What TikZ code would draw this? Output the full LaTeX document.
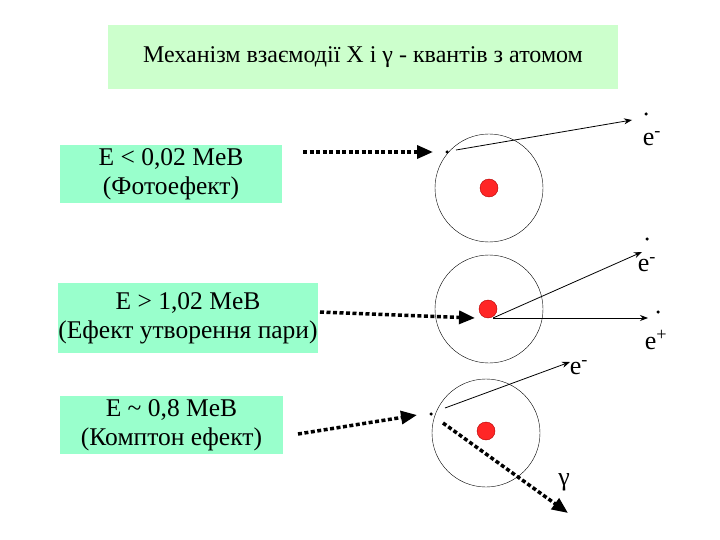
\documentclass[tikz,border=0pt]{standalone}
\usepackage{fontspec}
\setmainfont{Liberation Serif}
\usetikzlibrary{arrows.meta}
\begin{document}
\begin{tikzpicture}[x=1pt,y=-1pt,
  lbl/.style={fill=boxc,minimum height=58pt,align=center,font=\fontsize{25.5}{29}\selectfont,inner sep=0pt},
  orbit/.style={draw,thin,circle,minimum size=108pt,inner sep=0pt},
  nuc/.style={circle,fill=red!85!white,draw=red!70!black,thin,minimum size=18pt,inner sep=0pt},
  dotp/.style={circle,fill=black,minimum size=3.5pt,inner sep=0pt},
  photon/.style={line width=3.5pt,dash pattern=on 4pt off 2.5pt,-{Triangle[length=16pt,width=13pt]}},
  ray/.style={thick,-{Stealth[length=8pt]}},
  tx/.style={font=\fontsize{26}{28}\selectfont,inner sep=0pt}]
\definecolor{boxc}{RGB}{153,255,204}
\definecolor{titc}{RGB}{204,255,204}
\useasboundingbox (0,0) rectangle (720,540);
\fill[white] (0,0) rectangle (720,540);
\node[fill=titc,minimum width=510pt,minimum height=64pt,font=\fontsize{24}{28}\selectfont] (title) at (363,57) {Механізм взаємодії X і γ - квантів з атомом};
\node[lbl,minimum width=222pt] (b1) at (171,174) {E < 0,02 MeB\\(Фотоефект)};
\node[lbl,minimum width=256pt,minimum height=70pt] (b2) at (188,318) {E > 1,02 MeB\\(Ефект утворення пари)};
\node[lbl,minimum width=223pt] (b3) at (171.5,425) {E \textasciitilde{} 0,8 MeB\\(Комптон ефект)};
% atoms
\node[orbit] (o1) at (489,188) {};
\node[nuc] (n1) at (489,188) {};
\node[orbit] (o2) at (489,309) {};
\node[nuc] (n2) at (488,309) {};
\node[orbit] (o3) at (486,433) {};
\node[nuc] (n3) at (486,431) {};
% photoeffect
\coordinate (s1) at (303,152);
\coordinate (t1) at (433,152);
\draw[photon] (s1) -- (t1);
\node[dotp] (d1) at (447,152) {};
\coordinate (r1) at (456,150);
\coordinate (e1) at (632,120);
\draw[ray] (r1) -- (e1);
\node[dotp] (p1) at (646,114) {};
\node[tx] (l1) at (652,139) {e\textsuperscript{-}};
% pair
\coordinate (s2) at (320,312);
\coordinate (t2) at (475,318);
\draw[photon] (s2) -- (t2);
\coordinate (r2) at (493,318);
\coordinate (e2) at (642,252);
\coordinate (e3) at (648,318);
\draw[ray] (r2) -- (e2);
\draw[ray] (r2) -- (e3);
\node[dotp] (p2) at (647,239) {};
\node[dotp] (p3) at (658,312) {};
\node[tx] (l2) at (647,265) {e\textsuperscript{-}};
\node[tx] (l3) at (656,340) {e\textsuperscript{+}};
% compton
\coordinate (s3) at (298,434);
\coordinate (t3) at (417,415);
\draw[photon] (s3) -- (t3);
\node[dotp] (d3) at (431,414) {};
\coordinate (r3) at (445,408);
\coordinate (e4) at (570,362);
\draw[ray] (r3) -- (e4);
\node[tx] (l4) at (579,368) {e\textsuperscript{-}};
\coordinate (r4) at (443,423);
\coordinate (g) at (568,513);
\draw[photon] (r4) -- (g);
\node[tx] (l5) at (564,482) {γ};
\end{tikzpicture}
\end{document}
